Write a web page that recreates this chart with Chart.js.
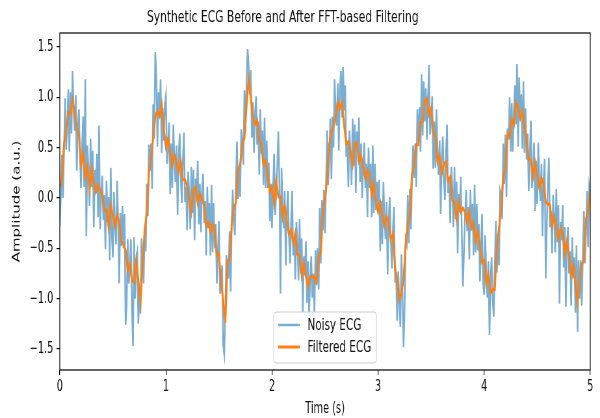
<!DOCTYPE html>
<html><head><meta charset="utf-8">
<script src="https://cdn.jsdelivr.net/npm/chart.js@4.4.1/dist/chart.umd.min.js"></script>
<style>html,body{margin:0;padding:0;background:#fff;overflow:hidden}</style>
</head><body>
<canvas id="c" width="923" height="418" style="display:block;width:600px;height:418px"></canvas>
<script>
const TITLE = 'Synthetic ECG Before and After FFT-based Filtering';
const X_LABEL = 'Time (s)';
const Y_LABEL = 'Amplitude (a.u.)';
const seriesNames = ['Noisy ECG', 'Filtered ECG'];
const xTicks = [0, 1, 2, 3, 4, 5];
const xTickLabels = ['0', '1', '2', '3', '4', '5'];
const yTicks = [-1.5, -1.0, -0.5, 0.0, 0.5, 1.0, 1.5];
const yTickLabels = ['\u22121.5', '\u22121.0', '\u22120.5', '0.0', '0.5', '1.0', '1.5'];
const X_MIN = 0, X_MAX = 5, Y_MIN = -1.709, Y_MAX = 1.639;
const noisyStep = 0.01;   // seconds between noisy samples
const filteredStep = 0.02; // seconds between filtered samples

const noisy = [
-0.28, 0.03, 0.43, 0.00, 0.50, 0.99, 0.48, 0.72, 1.08, 0.46,
1.05, 0.64, 1.26, 0.89, 0.67, 1.02, 0.27, 0.74, 0.88, 0.40,
0.10, 0.53, 0.81, 0.11, 1.18, -0.38, 0.52, 0.30, -0.08, 0.59,
0.11, 0.47, -0.29, 0.28, 0.10, 0.44, -0.19, 0.72, -0.31, 0.03,
0.22, -0.22, 0.03, -0.51, 0.17, -0.24, 0.01, -0.62, 0.30, -0.36,
-0.59, 0.06, -0.26, -0.46, 0.17, -0.23, -0.85, -0.15, -0.48, -0.08,
-0.50, -0.16, -1.26, -1.07, -0.41, -0.85, -0.70, -0.41, -1.10, -1.47,
-0.39, -1.00, -0.63, -0.55, -1.25, -0.91, -1.15, -0.40, -0.60, -0.85,
-0.31, -0.53, 0.14, -0.18, 0.53, 0.27, 0.54, 0.09, 0.93, 0.59,
1.45, 1.21, 0.51, 1.05, 0.82, 1.18, 0.45, 0.89, 0.57, 0.93,
1.02, 0.34, 0.48, 0.75, 0.04, 0.54, 0.10, 0.73, 0.37, 0.16,
0.52, -0.17, 0.42, 0.64, 0.20, -0.05, 0.37, 0.65, -0.04, 0.11,
-0.32, 0.26, 0.05, -0.31, 0.31, -0.15, 0.28, -0.42, 0.19, 0.02,
0.37, -0.26, 0.14, -0.34, 0.07, 0.24, -0.25, -0.03, -0.57, 0.11,
-0.30, -0.05, -0.57, 0.13, -0.54, -0.05, -0.50, -0.26, -0.85, -0.53,
-0.23, -0.95, -0.84, -0.67, -1.46, -1.55, -1.10, -0.57, -0.68, -0.80,
-0.33, -0.93, -0.26, 0.08, -0.23, -0.37, 0.17, 0.56, -0.01, 0.29,
0.01, 0.68, 0.57, 0.33, 1.07, 0.66, 1.13, 1.48, 1.32, 1.03,
1.27, 0.60, 0.95, 0.45, 0.84, 1.01, 0.53, 0.76, 0.23, 0.88,
0.44, 0.67, 0.13, 0.80, 0.10, 0.57, 0.10, 0.35, -0.23, 0.14,
-0.30, 0.09, 0.44, -0.17, 0.04, 0.33, 0.66, 0.14, -0.95, 0.30,
-0.08, -0.30, 0.07, -0.67, -0.13, 0.07, -0.38, -0.65, -0.25, 0.07,
-0.57, -0.40, -0.81, -0.24, -0.45, -0.82, -0.21, -0.75, -0.40, -1.14,
-0.58, -0.77, -0.43, -1.04, -0.63, -1.17, -0.82, -0.58, -0.99, -0.75,
-1.15, -0.52, -0.86, -0.50, -0.91, -0.10, -0.65, -0.02, -0.32, 0.08,
-0.35, 0.18, 0.67, 0.13, 0.41, 0.79, 0.19, 0.81, 0.50, 1.18,
0.87, 0.72, 1.14, 0.47, 1.07, 1.26, 0.80, 1.30, 0.87, 1.12,
0.41, 0.55, 0.11, 0.67, 0.45, 0.13, 0.79, 0.32, 0.73, 0.05,
0.66, 0.47, 0.80, 0.16, 0.54, 0.00, 0.34, 0.55, 0.10, 0.34,
-0.19, 0.50, 0.10, 0.34, -0.19, 0.52, -0.15, 0.34, -0.12, 0.16,
-0.09, 0.18, -0.53, -0.03, -0.46, 0.16, -0.20, -0.41, -0.04, -0.76,
-0.21, 0.01, -0.42, -0.70, -0.30, -0.09, -0.84, -0.74, -1.22, -0.73,
-1.01, -1.28, -0.56, -0.96, -1.48, -1.09, -0.41, -0.46, 0.03, -0.45,
0.09, -0.31, 0.19, 0.52, 0.20, 0.54, 0.11, 0.88, 0.56, 0.90,
0.46, 1.23, 0.62, 1.16, 0.76, 1.09, 0.58, 0.97, 1.32, 0.63,
0.76, 1.01, 0.29, 0.76, 0.30, 0.88, 0.47, 0.23, 0.57, -0.16,
0.39, 0.61, 0.18, -0.02, 0.45, 0.73, 0.05, 0.19, -0.25, 0.31,
0.09, -0.29, 0.31, -0.21, 0.16, -0.55, 0.04, -0.14, 0.21, -0.40,
-0.88, -0.52, -0.16, 0.08, -0.33, -0.09, -0.61, 0.08, -0.32, -0.06,
-0.57, 0.13, -0.54, -0.06, -0.52, -0.26, -0.83, -0.48, -0.16, -0.85,
-0.96, -0.37, -0.76, -0.99, -0.63, -1.36, -0.81, -0.59, -1.02, -1.18,
-0.67, -0.23, -0.74, -0.42, -0.67, 0.07, 0.02, -0.21, 0.54, 0.14,
0.63, 0.01, 0.69, 0.58, 1.00, 0.46, 0.94, 0.46, 0.86, 1.12,
0.73, 1.33, 0.51, 1.20, 0.79, 1.03, 0.49, 1.16, 0.45, 0.89,
0.38, 0.64, 0.07, 0.43, 0.77, 0.10, 0.26, 0.55, -0.13, 0.37,
-0.06, 0.55, 0.18, -0.03, 0.34, -0.38, 0.17, 0.39, -0.80, -0.30,
0.13, 0.40, -0.29, -0.13, -0.55, 0.03, -0.18, -0.54, 0.09, -0.44,
-0.07, -1.05, -0.24, -0.42, -0.07, -0.69, -0.29, -1.08, -0.48, -0.29,
-0.75, -0.53, -1.07, -0.39, -0.80, -0.59, -1.14, -0.47, -1.33, -0.62,
-1.00, -0.62, -1.07, -0.59, -0.13, -0.65, -0.34, 0.07, -0.49, 0.11,
0.02
];

const filtered = [
0.11, 0.18, 0.54, 0.66, 0.85, 0.84, 0.97, 0.84, 0.69, 0.63,
0.33, 0.44, 0.21, 0.31, 0.09, 0.29, 0.15, 0.06, 0.13, 0.08,
0.04, -0.12, -0.12, -0.29, -0.07, -0.18, -0.28, -0.17, -0.24, -0.43,
-0.46, -0.52, -0.72, -0.65, -0.82, -0.84, -0.62, -0.82, -1.03, -0.66,
-0.32, -0.14, 0.25, 0.40, 0.59, 0.82, 0.86, 0.81, 0.93, 0.68,
0.51, 0.59, 0.45, 0.32, 0.43, 0.36, 0.26, 0.37, 0.18, 0.18,
0.12, -0.02, -0.14, 0.08, 0.11, -0.05, 0.04, -0.01, -0.07, -0.27,
-0.24, -0.34, -0.26, -0.32, -0.57, -0.56, -0.84, -1.02, -1.24, -0.63,
-0.61, -0.27, -0.09, -0.05, 0.27, 0.34, 0.53, 0.59, 0.92, 1.18,
1.00, 0.82, 0.73, 0.77, 0.58, 0.53, 0.33, 0.37, 0.22, 0.06,
0.11, -0.05, 0.17, 0.01, 0.01, -0.19, -0.08, -0.22, -0.36, -0.32,
-0.45, -0.35, -0.56, -0.57, -0.77, -0.65, -0.78, -0.88, -0.78, -0.78,
-0.79, -0.84, -0.59, -0.54, -0.13, 0.00, 0.19, 0.53, 0.66, 0.71,
0.81, 0.95, 0.89, 0.95, 0.72, 0.54, 0.56, 0.44, 0.33, 0.54,
0.55, 0.36, 0.42, 0.30, 0.19, 0.28, 0.22, 0.03, 0.14, -0.04,
-0.14, -0.05, -0.18, -0.28, -0.18, -0.24, -0.41, -0.36, -0.69, -0.82,
-1.01, -0.95, -0.81, -0.47, -0.26, -0.17, 0.24, 0.31, 0.53, 0.53,
0.75, 0.76, 0.96, 0.99, 0.83, 0.89, 0.66, 0.61, 0.36, 0.42,
0.24, 0.34, 0.36, 0.17, 0.21, -0.02, -0.05, -0.21, -0.03, -0.14,
-0.10, -0.14, -0.25, -0.13, -0.30, -0.25, -0.43, -0.33, -0.48, -0.64,
-0.62, -0.85, -0.76, -0.94, -0.91, -0.91, -0.48, -0.30, -0.11, 0.23,
0.28, 0.64, 0.61, 0.78, 0.73, 0.95, 0.90, 0.79, 0.86, 0.71,
0.59, 0.38, 0.38, 0.21, 0.35, 0.22, 0.10, 0.20, 0.14, -0.04,
-0.06, -0.07, -0.27, -0.18, -0.30, -0.41, -0.30, -0.36, -0.55, -0.43,
-0.57, -0.77, -0.67, -0.85, -1.03, -0.80, -0.66, -0.62, -0.21, -0.12,
0.05
];

const noisyColor = 'rgba(31,119,180,0.6)';
const filteredColor = '#ff7f0e';

const noisyPts = noisy.map((v, i) => ({x: +(i * noisyStep).toFixed(3), y: v}));
const filteredPts = filtered.map((v, i) => ({x: +(i * filteredStep).toFixed(3), y: v}));

const FONT = 'DejaVu Sans';

const decor = {
  id: 'decor',
  afterDraw(chart) {
    const {ctx, chartArea: a} = chart;
    ctx.save();
    ctx.strokeStyle = '#000';
    ctx.lineWidth = 1.2;
    ctx.strokeRect(a.left, a.top, a.right - a.left, a.bottom - a.top);
    const w = 158, h = 51;
    const lx = (a.left + a.right) / 2 - w / 2;
    const ly = a.bottom - 7 - h;
    const r = 4;
    ctx.beginPath();
    ctx.moveTo(lx + r, ly);
    ctx.lineTo(lx + w - r, ly);
    ctx.quadraticCurveTo(lx + w, ly, lx + w, ly + r);
    ctx.lineTo(lx + w, ly + h - r);
    ctx.quadraticCurveTo(lx + w, ly + h, lx + w - r, ly + h);
    ctx.lineTo(lx + r, ly + h);
    ctx.quadraticCurveTo(lx, ly + h, lx, ly + h - r);
    ctx.lineTo(lx, ly + r);
    ctx.quadraticCurveTo(lx, ly, lx + r, ly);
    ctx.closePath();
    ctx.fillStyle = 'rgba(255,255,255,0.8)';
    ctx.fill();
    ctx.strokeStyle = '#cccccc';
    ctx.lineWidth = 1;
    ctx.stroke();
    const rows = [{c: noisyColor, wdt: 2.5}, {c: filteredColor, wdt: 3}];
    ctx.font = '16px "' + FONT + '"';
    ctx.textAlign = 'left';
    ctx.textBaseline = 'middle';
    rows.forEach((row, i) => {
      const yy = ly + 13 + i * 22;
      ctx.strokeStyle = row.c;
      ctx.lineWidth = row.wdt;
      ctx.beginPath();
      ctx.moveTo(lx + 7, yy);
      ctx.lineTo(lx + 40, yy);
      ctx.stroke();
      ctx.fillStyle = '#111';
      ctx.fillText(seriesNames[i], lx + 52, yy + 1);
    });
    ctx.font = '16.5px "' + FONT + '"';
    ctx.fillStyle = '#111';
    ctx.textAlign = 'center';
    ctx.textBaseline = 'middle';
    ctx.fillText(TITLE, 435, 18);
    ctx.restore();
  }
};

new Chart(document.getElementById('c'), {
  type: 'line',
  data: {
    datasets: [
      {label: seriesNames[0], data: noisyPts, borderColor: noisyColor, borderWidth: 2.5,
       pointRadius: 0, tension: 0, fill: false, order: 2},
      {label: seriesNames[1], data: filteredPts, borderColor: filteredColor, borderWidth: 3,
       pointRadius: 0, tension: 0, fill: false, order: 1}
    ]
  },
  options: {
    responsive: false,
    animation: false,
    devicePixelRatio: 1,
    layout: {padding: {left: 0, right: 15, top: 33, bottom: 0}},
    plugins: {legend: {display: false}, tooltip: {enabled: false}, title: {display: false}},
    scales: {
      x: {
        type: 'linear', min: X_MIN, max: X_MAX,
        afterFit(s) { s.height = 48; },
        afterBuildTicks(s) { s.ticks = xTicks.map(v => ({value: v})); },
        ticks: {font: {family: FONT, size: 15}, color: '#111', padding: 3, maxRotation: 0,
                autoSkip: false, callback: (v, i) => xTickLabels[i]},
        grid: {display: true, drawOnChartArea: false, drawTicks: true, tickLength: 5,
               color: '#000', lineWidth: 1.2},
        border: {display: false},
        title: {display: true, text: X_LABEL, font: {family: FONT, size: 15}, color: '#111',
                padding: {top: 0, bottom: 0}}
      },
      y: {
        type: 'linear', min: Y_MIN, max: Y_MAX,
        afterFit(s) { s.width = 92; },
        afterBuildTicks(s) { s.ticks = yTicks.map(v => ({value: v})); },
        ticks: {font: {family: FONT, size: 15}, color: '#111', padding: 5,
                autoSkip: false, callback: (v, i) => yTickLabels[i]},
        grid: {display: true, drawOnChartArea: false, drawTicks: true, tickLength: 5,
               color: '#000', lineWidth: 1.2},
        border: {display: false},
        title: {display: true, text: Y_LABEL, font: {family: FONT, size: 15}, color: '#111',
                padding: {top: 17, bottom: 0}}
      }
    }
  },
  plugins: [decor]
});
</script>
</body></html>
